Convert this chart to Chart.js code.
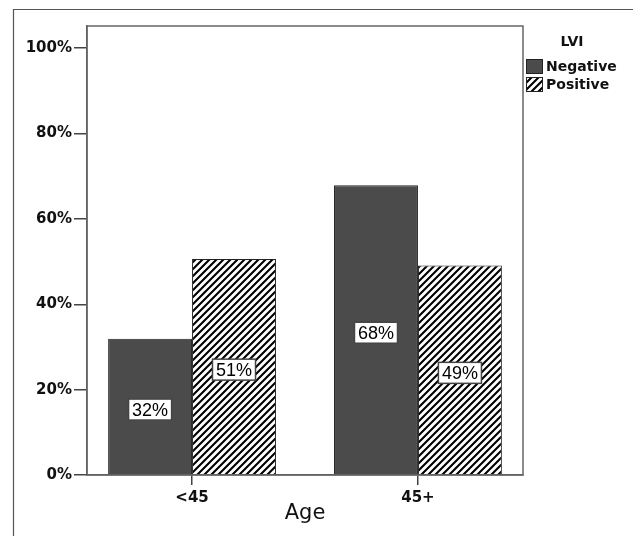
<!DOCTYPE html>
<html>
<head>
<meta charset="utf-8">
<script src="https://cdn.jsdelivr.net/npm/chart.js@4.4.1/dist/chart.umd.min.js"></script>
<style>
  html, body { margin: 0; padding: 0; background: #fff; }
</style>
</head>
<body>
<canvas id="barChart" width="633" height="536"></canvas>
<script>
// values (percent within each LVI group)
var ageGroups = ["<45", "45+"];
var negativeValues = [31.9, 67.9];
var positiveValues = [50.6, 49.1];
var seriesNames = ["Negative", "Positive"];
var yTicks = [0, 20, 40, 60, 80, 100];

function makeHatch() {
  var n = 7;
  var c = document.createElement('canvas');
  c.width = n; c.height = n;
  var g = c.getContext('2d');
  g.fillStyle = '#fff';
  g.fillRect(0, 0, n, n);
  g.strokeStyle = '#000';
  g.lineWidth = 2.1;
  g.beginPath();
  g.moveTo(-1, n + 1); g.lineTo(n + 1, -1);
  g.moveTo(-1, 1); g.lineTo(1, -1);
  g.moveTo(n - 1, n + 1); g.lineTo(n + 1, n - 1);
  g.stroke();
  return g.createPattern(c, 'repeat');
}

var hatch = makeHatch();
var darkGrey = '#4b4b4b';

var framePlugin = {
  id: 'frame',
  beforeDraw: function(chart) {
    var ctx = chart.ctx;
    ctx.save();
    ctx.fillStyle = '#fff';
    ctx.fillRect(0, 0, chart.width, chart.height);
    ctx.strokeStyle = '#555';
    ctx.lineWidth = 1.2;
    ctx.beginPath();
    ctx.moveTo(13.5, chart.height);
    ctx.lineTo(13.5, 9.5);
    ctx.lineTo(chart.width, 9.5);
    ctx.stroke();
    ctx.restore();
  },
  afterDraw: function(chart) {
    var ctx = chart.ctx;
    var a = chart.chartArea;
    ctx.save();
    // plot frame
    ctx.strokeStyle = '#666';
    ctx.lineWidth = 1.5;
    ctx.strokeRect(a.left, a.top, a.right - a.left, a.bottom - a.top);

    // legend
    var x0 = a.right + 3;
    ctx.fillStyle = '#111';
    ctx.font = 'bold 14px "DejaVu Sans"';
    ctx.textAlign = 'center';
    ctx.textBaseline = 'middle';
    ctx.fillText('LVI', a.right + 49, 42);
    ctx.textAlign = 'left';
    chart.data.datasets.forEach(function(ds, i) {
      var y = 59 + i * 18;
      ctx.fillStyle = ds.backgroundColor;
      ctx.fillRect(x0, y, 17, 15);
      ctx.strokeStyle = '#222';
      ctx.lineWidth = 1;
      ctx.strokeRect(x0 + 0.5, y + 0.5, 16, 14);
      ctx.fillStyle = '#111';
      ctx.fillText(ds.label, x0 + 20, y + 8);
    });
    ctx.restore();
  },
  afterDatasetsDraw: function(chart) {
    var ctx = chart.ctx;
    ctx.save();
    ctx.font = '18px "Liberation Sans"';
    ctx.textAlign = 'center';
    ctx.textBaseline = 'middle';
    chart.data.datasets.forEach(function(ds, i) {
      chart.getDatasetMeta(i).data.forEach(function(bar, j) {
        var txt = Math.round(ds.data[j]) + '%';
        var cy = (bar.y + bar.base) / 2 + 3;
        var w = ctx.measureText(txt).width + 7;
        var h = 21;
        ctx.fillStyle = '#fff';
        ctx.fillRect(bar.x - w / 2, cy - h / 2, w, h);
        ctx.strokeStyle = '#444';
        ctx.lineWidth = 1.5;
        ctx.strokeRect(bar.x - w / 2, cy - h / 2, w, h);
        ctx.fillStyle = '#000';
        ctx.fillText(txt, bar.x, cy + 1);
      });
    });
    ctx.restore();
  }
};

new Chart(document.getElementById('barChart').getContext('2d'), {
  type: 'bar',
  data: {
    labels: ageGroups,
    datasets: [{
      label: seriesNames[0],
      data: negativeValues,
      backgroundColor: darkGrey,
      borderColor: '#222',
      borderWidth: 1
    }, {
      label: seriesNames[1],
      data: positiveValues,
      backgroundColor: hatch,
      borderColor: '#222',
      borderWidth: 1
    }]
  },
  options: {
    responsive: false,
    animation: false,
    events: [],
    layout: { padding: { left: 0, right: 110, top: 26, bottom: 10 } },
    datasets: { bar: { categoryPercentage: 0.743, barPercentage: 1 } },
    plugins: { legend: { display: false }, tooltip: { enabled: false } },
    scales: {
      x: {
        afterFit: function(s) { s.height = 51; },
        // SPSS leaves a smaller margin than half a category at each side
        afterUpdate: function(s) { s._startValue = -0.465; s._valueRange = 1.93; },
        grid: { offset: false, drawOnChartArea: false, tickLength: 10, color: '#444', lineWidth: 1.5 },
        border: { display: true, color: '#555', width: 1.5 },
        ticks: { color: '#111', padding: 4, font: { family: 'DejaVu Sans', weight: 'bold', size: 15 } },
        title: { display: true, text: 'Age', color: '#111', padding: 0, font: { family: 'DejaVu Sans', size: 21 } }
      },
      y: {
        min: 0,
        max: 105.2,
        afterFit: function(s) { s.width = 87; },
        afterBuildTicks: function(s) { s.ticks = yTicks.map(function(v) { return { value: v }; }); },
        grid: { drawOnChartArea: false, tickLength: 13, color: '#444', lineWidth: 1.5 },
        border: { display: true, color: '#555', width: 1.5 },
        ticks: {
          color: '#111',
          padding: 2,
          font: { family: 'DejaVu Sans', weight: 'bold', size: 15 },
          callback: function(v) { return v + '%'; }
        }
      }
    }
  },
  plugins: [framePlugin]
});
</script>
</body>
</html>
